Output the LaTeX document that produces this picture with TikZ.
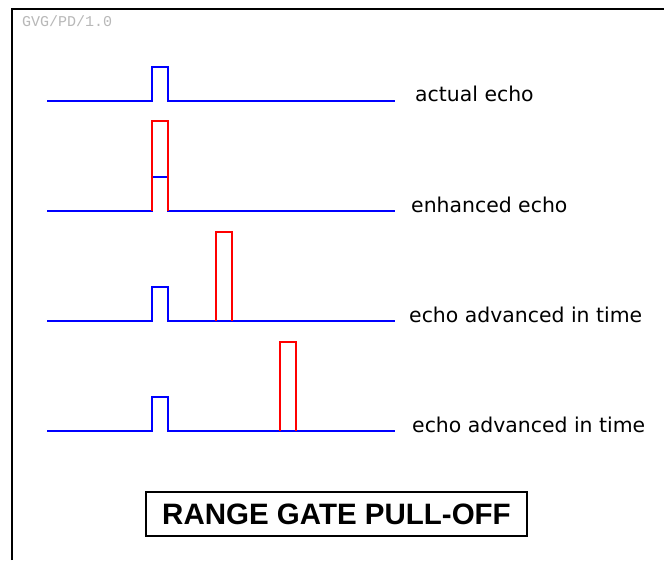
\documentclass[tikz,border=0pt]{standalone}
\usepackage{fontspec}
\setmainfont{DejaVu Sans}
\newfontfamily\titlefont{Liberation Sans}
\newfontfamily\tagfont{Liberation Mono}
\begin{document}
\begin{tikzpicture}[x=1pt,y=-1pt,
  sig/.style={draw=blue,line width=2.2pt,line join=miter},
  echo/.style={draw=red,line width=2.2pt,line join=miter},
  lbl/.style={anchor=base west,inner sep=0pt,font=\fontsize{20.4}{24}\selectfont},
  titlebox/.style={draw=black,line width=2.4pt,minimum width=381pt,minimum height=44pt,inner sep=0pt,font=\titlefont\bfseries\fontsize{29.5}{34}\selectfont}]
\useasboundingbox[fill=white] (0,0) rectangle (664,560);
% frame
\draw[line width=2.5pt,black] (12,560) -- (12,9) -- (664,9);
\node[anchor=north west,inner sep=0pt,text=black!28,font=\tagfont\fontsize{15}{17}\selectfont] (tag) at (22,15) {GVG/PD/1.0};
% row 1
\draw[sig] (47,101) -- (152,101) -- (152,67) -- (168,67) -- (168,101) -- (395,101);
\node[lbl] (l1) at (415,101) {actual echo};
% row 2
\draw[sig] (47,211) -- (152,211) -- (152,177) -- (168,177) -- (168,211) -- (395,211);
\draw[echo] (152,211) -- (152,121) -- (168,121) -- (168,211);
\node[lbl] (l2) at (411,212) {enhanced echo};
% row 3
\draw[sig] (47,321) -- (152,321) -- (152,287) -- (168,287) -- (168,321) -- (395,321);
\draw[echo] (216,321) -- (216,232) -- (232,232) -- (232,321);
\node[lbl] (l3) at (409,322) {echo advanced in time};
% row 4
\draw[sig] (47,431) -- (152,431) -- (152,397) -- (168,397) -- (168,431) -- (395,431);
\draw[echo] (280,431) -- (280,342) -- (296,342) -- (296,431);
\node[lbl] (l4) at (412,432) {echo advanced in time};
% title
\node[titlebox] (title) at (336.5,514) {RANGE GATE PULL-OFF};
\end{tikzpicture}
\end{document}
